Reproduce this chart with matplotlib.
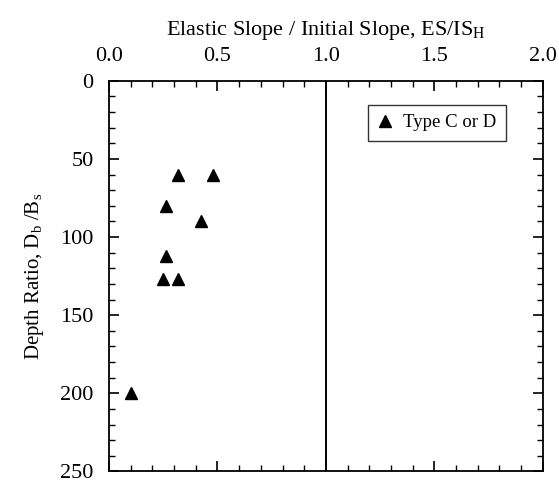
import matplotlib
matplotlib.use("Agg")
import matplotlib.pyplot as plt
from matplotlib.ticker import MultipleLocator

# data
slope_ratio = [0.32, 0.48, 0.265, 0.425, 0.265, 0.25, 0.32, 0.10]
depth_ratio = [60, 60, 80, 90, 112, 127, 127, 200]
series_label = "Type C or D"

matplotlib.rcParams['font.family'] = ['Liberation Serif', 'DejaVu Serif']
matplotlib.rcParams['mathtext.fontset'] = 'custom'
matplotlib.rcParams['mathtext.rm'] = 'Liberation Serif'
matplotlib.rcParams['mathtext.it'] = 'Liberation Serif:italic'

fig = plt.figure(figsize=(5.59, 4.84), dpi=100)
ax = fig.add_axes([0.195, 0.026, 0.776, 0.807])

ax.plot(slope_ratio, depth_ratio, linestyle='none', marker='^', color='black',
        markersize=8, label=series_label)
ax.axvline(1.0, color='black', linewidth=1.4)

ax.set_xlim(0, 2.0)
ax.set_ylim(250, 0)
ax.xaxis.set_major_locator(MultipleLocator(0.5))
ax.xaxis.set_minor_locator(MultipleLocator(0.1))
ax.yaxis.set_major_locator(MultipleLocator(50))
ax.yaxis.set_minor_locator(MultipleLocator(10))
ax.xaxis.set_major_formatter(matplotlib.ticker.FormatStrFormatter('%.1f'))

ax.tick_params(which='both', direction='in', top=True, right=True,
               bottom=True, left=True, labelbottom=False, labeltop=True,
               labelsize=16)
ax.tick_params(axis='x', which='major', pad=11)
ax.tick_params(axis='y', which='major', pad=11)
ax.tick_params(which='major', length=7, width=1.2)
ax.tick_params(which='minor', length=4, width=1.0)
for s in ax.spines.values():
    s.set_linewidth(1.3)

ax.xaxis.set_label_position('top')
ax.set_xlabel(r'Elastic Slope / Initial Slope, ES/IS$_\mathrm{H}$', fontsize=16, labelpad=8)
ax.set_ylabel(r'Depth Ratio, D$_\mathrm{b}$ /B$_\mathrm{s}$', fontsize=15, labelpad=10)

leg = ax.legend(loc='upper right', bbox_to_anchor=(0.915, 0.939), fontsize=13.5,
                frameon=True, fancybox=False, edgecolor='black',
                handlelength=0.8, handletextpad=0.6, borderpad=0.5,
                borderaxespad=0)
leg.get_frame().set_linewidth(1.0)

fig.savefig('out.png', dpi=100)
